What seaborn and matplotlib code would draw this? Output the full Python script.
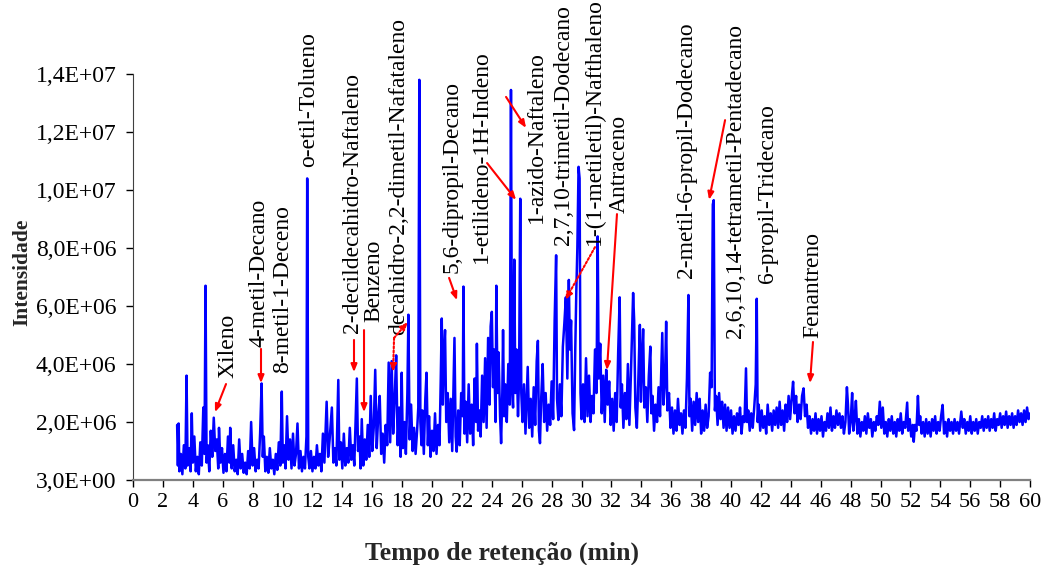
#Chromatogram of the sample, peaks
import numpy as np
import pandas as pd
import matplotlib
matplotlib.use('Agg')
import matplotlib.pyplot as plt
import seaborn as sns

# (time in min, intensity in 1E+06), split by time window
seg_03_08 = [(2.95,1.9),(3.0,0.5),(3.05,1.95),(3.1,0.3),(3.2,0.9),(3.3,0.2),(3.4,1.2),(3.5,0.4),(3.58,3.6),(3.65,0.5),
             (3.75,1.1),(3.85,0.3),(3.93,2.3),(4.0,0.6),(4.1,1.5),(4.2,0.3),(4.3,0.8),(4.4,0.2),(4.5,1.3),(4.6,0.5),
             (4.7,2.5),(4.78,0.9),(4.85,6.7),(4.92,0.6),(5.0,1.2),(5.1,0.3),(5.2,1.7),(5.3,0.8),(5.4,2.15),(5.5,1.0),
             (5.6,1.4),(5.7,0.4),(5.75,1.8),(5.85,0.6),(5.95,1.1),(6.05,0.25),(6.15,0.9),(6.25,0.3),(6.35,1.5),(6.45,0.6),
             (6.5,1.8),(6.6,0.4),(6.7,1.2),(6.8,0.3),(6.9,0.7),(7.0,0.2),(7.1,1.4),(7.2,0.4),(7.3,0.9),(7.4,0.25),
             (7.5,0.6),(7.6,0.2),(7.7,1.0),(7.8,0.4),(7.9,2.0),(8.0,0.5)]
seg_08_14 = [(8.1,1.1),(8.2,0.3),(8.3,0.7),(8.4,0.4),(8.5,1.6),(8.6,3.33),(8.68,0.8),(8.75,1.5),(8.85,0.3),(8.95,0.8),
             (9.05,0.25),(9.15,1.1),(9.25,0.4),(9.35,0.7),(9.45,0.2),(9.55,0.9),(9.65,0.35),(9.75,1.3),(9.85,0.5),(9.95,3.05),
             (10.02,0.6),(10.1,1.2),(10.2,0.4),(10.3,2.2),(10.4,0.7),(10.5,1.4),(10.6,0.4),(10.7,1.6),(10.8,0.5),(10.9,0.9),
             (11.0,1.95),(11.1,0.4),(11.2,1.0),(11.3,0.3),(11.4,0.8),(11.5,0.4),(11.6,1.5),(11.65,10.4),(11.72,0.8),(11.8,0.4),
             (11.9,1.0),(12.0,0.3),(12.1,0.8),(12.2,0.4),(12.3,1.2),(12.4,0.5),(12.5,0.9),(12.6,0.3),(12.7,1.6),(12.8,0.6),
             (12.95,2.7),(13.05,0.8),(13.15,1.4),(13.3,2.5),(13.4,0.6),(13.5,1.1),(13.6,0.5),(13.73,3.45),(13.8,0.7)]
seg_14_19 = [(13.9,1.3),(14.0,0.4),(14.1,1.6),(14.2,0.5),(14.3,1.1),(14.4,0.6),(14.5,1.8),(14.6,0.7),(14.7,1.2),(14.8,0.5),
             (14.9,2.3),(14.97,3.5),(15.05,1.0),(15.15,1.5),(15.22,0.4),(15.3,2.1),(15.4,0.5),(15.5,1.4),(15.6,0.7),(15.7,1.9),
             (15.8,0.8),(15.9,2.9),(16.0,1.0),(16.1,1.8),(16.2,3.8),(16.3,1.1),(16.4,2.2),(16.5,2.9),(16.6,0.9),(16.7,1.6),
             (16.8,0.6),(16.9,1.9),(17.0,1.2),(17.1,4.05),(17.2,1.3),(17.3,4.1),(17.4,1.6),(17.5,2.8),(17.6,4.3),(17.7,1.2),
             (17.8,2.5),(17.9,0.8),(17.97,3.7),(18.05,1.1),(18.15,2.0),(18.25,0.9),(18.35,3.0),(18.42,5.7),(18.5,1.4),(18.6,2.6),
             (18.7,1.0),(18.8,1.8),(18.9,0.9),(19.0,1.7),(19.08,2.5),(19.15,13.8),(19.22,2.0),(19.3,1.2)]
seg_19_25 = [(19.35,2.4),(19.45,0.9),(19.55,2.8),(19.63,3.7),(19.72,1.2),(19.8,2.2),(19.9,0.8),(20.0,1.7),(20.1,1.0),(20.2,2.3),
             (20.3,0.9),(20.4,1.9),(20.5,1.2),(20.58,3.4),(20.65,5.57),(20.72,2.6),(20.8,4.4),(20.87,5.17),(20.95,2.0),(21.05,3.0),
             (21.15,1.3),(21.25,2.8),(21.35,1.0),(21.45,3.5),(21.5,4.9),(21.58,1.5),(21.65,0.98),(21.75,2.4),(21.85,1.2),(21.95,3.0),
             (22.05,2.2),(22.1,6.67),(22.17,1.6),(22.25,2.7),(22.35,1.3),(22.45,3.3),(22.55,1.6),(22.65,2.6),(22.75,1.2),(22.85,3.5),
             (22.95,2.0),(23.0,4.7),(23.08,1.7),(23.18,2.4),(23.25,1.5),(23.35,3.6),(23.45,2.0),(23.55,4.2),(23.65,1.8),(23.75,4.9),
             (23.85,2.6),(23.92,5.3),(24.0,5.8),(24.08,3.2),(24.15,4.5),(24.25,2.0),(24.3,6.7),(24.38,3.0),(24.45,4.4),(24.55,2.2),
             (24.62,1.27),(24.7,3.0),(24.75,5.17),(24.82,2.2),(24.9,3.3),(25.0,2.0)]
seg_25_31 = [(25.1,4.0),(25.2,2.6),(25.28,13.45),(25.35,3.2),(25.42,2.5),(25.5,7.6),(25.57,3.0),(25.65,4.5),(25.75,2.2),(25.82,3.5),
             (25.9,9.7),(25.97,3.0),(26.05,2.0),(26.15,3.3),(26.25,1.6),(26.4,3.9),(26.5,1.8),(26.6,2.8),(26.7,1.5),(26.8,3.2),
             (26.9,1.9),(27.0,4.1),(27.08,4.8),(27.15,1.7),(27.22,1.27),(27.3,2.8),(27.4,4.0),(27.5,2.0),(27.6,3.0),(27.7,1.7),
             (27.8,2.6),(27.9,1.9),(28.0,3.4),(28.1,2.1),(28.2,5.5),(28.3,7.75),(28.36,2.8),(28.45,2.07),(28.55,3.3),(28.65,2.2),
             (28.75,4.6),(28.85,5.4),(28.95,6.3),(29.05,3.5),(29.15,6.9),(29.22,4.5),(29.3,5.5),(29.4,2.3),(29.5,1.72),(29.58,4.5),
             (29.65,6.5),(29.72,8.0),(29.8,10.8),(29.87,10.4),(29.93,3.0),(30.0,2.1),(30.1,3.3),(30.2,2.0),(30.3,4.2),(30.4,2.2),
             (30.5,3.6),(30.6,2.0),(30.7,2.9),(30.8,2.3),(30.9,4.5),(31.0,3.0)]
seg_31_38 = [(31.08,8.4),(31.15,3.5),(31.25,4.7),(31.35,2.3),(31.45,3.6),(31.55,2.0),(31.65,3.8),(31.75,2.6),(31.85,3.4),(31.95,1.9),
             (32.05,2.8),(32.15,1.7),(32.25,3.0),(32.35,2.0),(32.45,4.4),(32.55,6.3),(32.62,2.5),(32.7,3.3),(32.8,1.8),(32.9,3.0),
             (33.0,2.1),(33.1,4.0),(33.2,1.9),(33.3,3.6),(33.45,6.45),(33.52,5.5),(33.6,2.5),(33.7,1.8),(33.8,3.5),(33.9,5.35),
             (33.97,2.7),(34.05,4.2),(34.12,5.2),(34.2,2.5),(34.3,3.2),(34.4,2.0),(34.5,3.6),(34.6,4.6),(34.67,2.3),(34.75,2.9),
             (34.85,1.7),(34.95,2.6),(35.05,2.0),(35.15,3.2),(35.25,2.2),(35.4,5.07),(35.48,2.6),(35.58,3.4),(35.66,5.46),(35.74,2.4),
             (35.85,3.0),(35.95,1.8),(36.05,2.5),(36.15,1.6),(36.25,2.4),(36.35,1.7),(36.45,2.8),(36.55,1.9),(36.65,2.3),(36.75,1.6),
             (36.85,2.4),(36.95,1.8),(37.05,3.5),(37.15,6.38),(37.22,2.2),(37.3,2.8),(37.4,1.7),(37.5,2.7),(37.6,1.9),(37.7,3.0),
             (37.8,2.0),(37.9,2.8)]
seg_38_45 = [(38.0,1.6),(38.1,2.4),(38.2,1.7),(38.3,2.6),(38.4,1.8),(38.5,2.2),(38.6,3.7),(38.7,3.2),(38.78,9.5),(38.84,9.65),
             (38.92,2.4),(39.0,2.9),(39.1,1.9),(39.2,3.0),(39.3,2.1),(39.4,2.7),(39.5,1.8),(39.6,2.6),(39.7,1.7),(39.8,2.5),
             (39.9,1.8),(40.0,2.4),(40.1,1.6),(40.2,2.2),(40.3,1.7),(40.4,2.3),(40.5,1.9),(40.6,2.5),(40.7,1.6),(40.8,2.2),
             (40.9,2.0),(41.0,3.85),(41.07,2.0),(41.15,2.4),(41.25,1.7),(41.35,2.3),(41.45,1.8),(41.55,2.5),(41.65,3.3),(41.72,6.25),
             (41.78,2.0),(41.85,2.6),(41.95,1.7),(42.05,2.4),(42.15,1.8),(42.25,2.2),(42.35,1.6),(42.45,2.6),(42.55,1.9),(42.65,2.3),
             (42.75,1.7),(42.85,2.4),(42.95,1.9),(43.05,2.5),(43.15,1.8),(43.25,2.7),(43.35,1.9),(43.45,2.4),(43.55,1.7),(43.65,2.6),
             (43.75,2.0),(43.85,2.9),(43.95,2.1),(44.05,2.8),(44.15,3.39),(44.25,2.3),(44.35,2.9),(44.45,2.0),(44.55,2.6),(44.65,2.1),
             (44.75,2.9),(44.85,3.16),(44.95,2.2)]
seg_45_52 = [(45.05,2.6),(45.15,1.8),(45.25,2.2),(45.35,1.6),(45.45,2.1),(45.55,1.7),(45.65,2.3),(45.75,1.6),(45.85,2.1),(45.95,1.7),
             (46.05,2.2),(46.15,1.5),(46.25,2.0),(46.35,1.7),(46.45,2.3),(46.55,1.8),(46.65,2.5),(46.75,1.7),(46.85,2.2),(46.95,1.8),
             (47.05,2.4),(47.15,1.9),(47.25,2.3),(47.35,1.8),(47.45,2.2),(47.55,1.6),(47.65,2.0),(47.75,3.2),(47.82,2.6),(47.9,1.6),
             (48.0,2.0),(48.1,3.0),(48.18,1.7),(48.28,2.2),(48.35,2.73),(48.45,1.6),(48.55,2.1),(48.65,1.5),(48.75,2.0),(48.85,1.7),
             (48.95,2.2),(49.05,1.6),(49.15,2.3),(49.25,1.8),(49.35,2.1),(49.45,1.5),(49.55,2.0),(49.65,1.7),(49.75,2.2),(49.85,1.9),
             (49.95,2.7),(50.05,1.8),(50.15,2.5),(50.25,1.6),(50.35,2.0),(50.45,1.5),(50.55,2.1),(50.65,1.7),(50.75,2.2),(50.85,1.6),
             (50.95,2.0),(51.05,1.5),(51.15,2.1),(51.25,1.7),(51.35,2.3),(51.45,1.6),(51.55,2.0),(51.65,1.8),(51.78,2.67),(51.85,1.7),
             (51.95,2.1)]
seg_52_60 = [(52.05,1.5),(52.15,1.9),(52.22,1.32),(52.3,1.9),(52.4,1.7),(52.5,2.9),(52.58,1.9),(52.65,2.2),(52.75,1.6),(52.85,2.0),
             (52.95,1.5),(53.05,2.1),(53.15,1.6),(53.25,2.0),(53.35,1.5),(53.45,2.1),(53.55,1.7),(53.65,2.2),(53.75,1.6),(53.85,2.0),
             (53.95,1.7),(54.05,2.2),(54.15,2.59),(54.25,1.6),(54.35,2.0),(54.45,1.5),(54.55,2.1),(54.65,1.7),(54.75,2.0),(54.85,1.6),
             (54.95,2.1),(55.05,1.7),(55.15,2.0),(55.25,1.6),(55.4,2.36),(55.5,1.8),(55.6,2.1),(55.7,1.6),(55.8,2.0),(55.9,1.7),
             (56.0,2.2),(56.1,1.6),(56.2,2.0),(56.3,1.7),(56.4,2.1),(56.5,1.6),(56.6,2.0),(56.7,1.8),(56.8,2.2),(56.9,1.7),
             (57.0,2.1),(57.1,1.8),(57.2,2.2),(57.3,1.7),(57.4,2.1),(57.5,1.8),(57.6,2.3),(57.7,1.7),(57.8,2.1),(57.9,1.9),
             (58.0,2.3),(58.1,1.8),(58.2,2.2),(58.3,1.9),(58.4,2.36),(58.5,1.8),(58.6,2.2),(58.7,1.9),(58.8,2.3),(58.9,1.8),
             (59.0,2.2),(59.1,1.9),(59.2,2.4),(59.3,2.0),(59.4,2.3),(59.5,1.9),(59.6,2.4),(59.7,2.0),(59.8,2.5),(59.9,2.1),(60.0,2.3)]

x_ticks = list(range(0, 61, 2))
y_ticks = [0, 2e6, 4e6, 6e6, 8e6, 1e7, 1.2e7, 1.4e7]
y_tick_labels = ['3,0E+00', '2,0E+06', '4,0E+06', '6,0E+06', '8,0E+06', '1,0E+07', '1,2E+07', '1,4E+07']

# compound names: (name, text x in min, text bottom in 1E+06)
compounds = [('Xileno', 6.35, 3.52), ('4-metil-Decano', 8.43, 4.59), ('8-metil-1-Deceno', 10.03, 3.69),
             ('o-etil-Tolueno', 11.77, 10.79), ('2-decildecahidro-Naftaleno', 14.65, 5.07), ('Benzeno', 16.12, 5.45),
             ('decahidro-2,2-dimetil-Nafataleno', 17.79, 5.0), ('5,6-dipropil-Decano', 21.34, 7.14),
             ('1-etilideno-1H-Indeno', 23.28, 7.48), ('1-azido-Naftaleno', 26.96, 8.86),
             ('2,7,10-trimetil-Dodecano', 28.76, 8.1), ('1-(1-metiletil)-Nafthaleno', 30.84, 8.1),
             ('Antraceno', 32.51, 9.2), ('2-metil-6-propil-Dodecano', 36.99, 6.97),
             ('2,6,10,14-tetrametil-Pentadecano', 40.33, 4.9), ('6-propil-Tridecano', 42.47, 6.79),
             ('Fenantreno', 45.48, 4.9)]
# arrows: (tail, tip, dotted)
arrows = [((6.22, 3.31), (5.48, 2.34), False), ((8.56, 4.52), (8.56, 3.34), False),
          ((14.78, 4.83), (14.78, 3.72), False), ((15.45, 5.17), (15.45, 2.34), False),
          ((17.46, 4.9), (17.39, 3.72), True), ((17.46, 4.9), (18.39, 5.45), True),
          ((21.14, 6.97), (21.67, 6.2), False), ((23.68, 10.93), (25.62, 9.66), False),
          ((24.95, 13.21), (26.29, 12.14), False), ((30.9, 8.03), (28.9, 6.2), True),
          ((32.37, 9.17), (31.7, 3.79), False), ((39.6, 12.41), (38.53, 9.66), False),
          ((45.48, 4.76), (45.28, 3.34), False)]

rows = seg_03_08 + seg_08_14 + seg_14_19 + seg_19_25 + seg_25_31 + seg_31_38 + seg_38_45 + seg_45_52 + seg_52_60
df = pd.DataFrame(rows, columns=['tempo', 'int'])
df['int'] = df['int'] * 1e6

sns.set_style('ticks')
plt.rcParams['font.family'] = ['Liberation Serif', 'DejaVu Serif']

fig = plt.figure(figsize=(10.45, 5.65), dpi=100)
ax = fig.add_axes([0.1273, 0.1504, 0.8584, 0.7186])
sns.lineplot(data=df, x='tempo', y='int', ax=ax, color='#0000FF', linewidth=1.8, estimator=None, sort=False)

ax.set_xlim(0, 60)
ax.set_ylim(0, 1.4e7)
ax.set_xticks(x_ticks)
ax.set_xticklabels([str(t) for t in x_ticks], fontsize=16)
ax.set_yticks(y_ticks)
ax.set_yticklabels(y_tick_labels, fontsize=17)
ax.tick_params(direction='out', length=5, width=1, colors='black')
ax.tick_params(axis='y', pad=7)
ax.tick_params(axis='x', pad=4)
ax.spines['top'].set_visible(False)
ax.spines['right'].set_visible(False)
ax.spines['bottom'].set_color('#808080')
ax.spines['bottom'].set_linewidth(1.6)
ax.spines['left'].set_color('#404040')

ax.set_xlabel('Tempo de retenção (min)', fontsize=18.5, fontweight='bold')
ax.set_ylabel('Intensidade', fontsize=15.5, fontweight='bold')
ax.xaxis.set_label_coords(0.411, -0.152)
ax.yaxis.set_label_coords(-0.112, 0.512)

for name, tx, ty in compounds:
    ax.text(tx, ty * 1e6, name, rotation=90, ha='center', va='bottom', fontsize=17, color='black')

for tail, tip, dotted in arrows:
    ax.annotate('', xy=(tip[0], tip[1] * 1e6), xytext=(tail[0], tail[1] * 1e6),
                arrowprops=dict(arrowstyle='-|>,head_length=0.45,head_width=0.18', color='#FF0000',
                                lw=1.5, linestyle=(0, (1, 1)) if dotted else '-', shrinkA=0, shrinkB=0))

fig.savefig('out.png', dpi=100)
